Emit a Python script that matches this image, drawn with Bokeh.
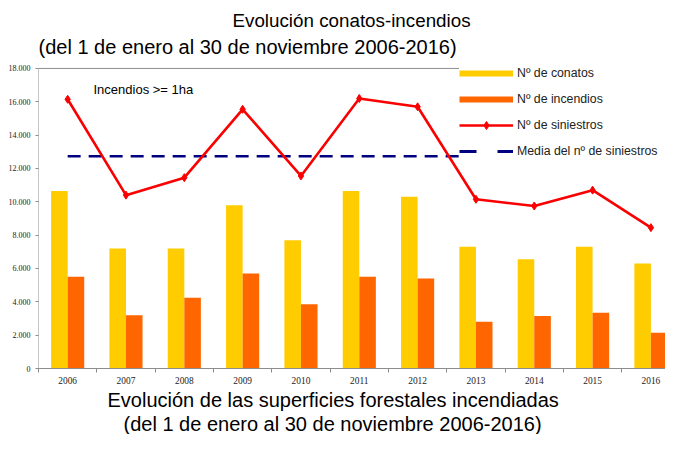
from bokeh.plotting import figure
from bokeh.models import (ColumnDataSource, Range1d, FixedTicker, CustomJSTickFormatter,
                          Label, Legend, LegendItem, Span, Title)
from bokeh.transform import dodge
from bokeh.embed import file_html
from bokeh.resources import INLINE

# ---- data ----
years = ["2006", "2007", "2008", "2009", "2010", "2011", "2012", "2013", "2014", "2015", "2016"]
conatos = [10650, 7200, 7200, 9800, 7700, 10650, 10300, 7300, 6550, 7300, 6300]
incendios = [5500, 3200, 4250, 5700, 3850, 5500, 5400, 2800, 3150, 3350, 2150]
siniestros = [16150, 10400, 11450, 15550, 11550, 16200, 15700, 10150, 9750, 10700, 8450]
media_siniestros = 12740
y_ticks = [0, 2000, 4000, 6000, 8000, 10000, 12000, 14000, 16000, 18000]
series_names = ["Nº de conatos", "Nº de incendios", "Nº de siniestros", "Media del nº de siniestros"]
title_main = "Evolución conatos-incendios"
subtitle = "(del 1 de enero al 30 de noviembre 2006-2016)"
bottom_title = "Evolución de las superficies forestales incendiadas"
note = "Incendios >= 1ha"

n = len(years)
pos = [i + 0.5 for i in range(n)]
src = ColumnDataSource(dict(x=pos, year=years, conatos=conatos, incendios=incendios,
                            siniestros=siniestros, media=[media_siniestros] * n))

YELLOW = "#FFCC00"
ORANGE = "#FF6600"
RED = "#FA0000"
NAVY = "#000080"
GREY = "#8c8c8c"
SANS = "Liberation Sans"
SERIF = "Liberation Serif"

# frame: top at 60, bottom at 370; the 18.000 level sits at y = 68
FRAME_TOP, FRAME_BOTTOM, TOP_LEVEL_Y = 60, 370, 68
y_top = y_ticks[-1] * (FRAME_BOTTOM - FRAME_TOP) / (FRAME_BOTTOM - TOP_LEVEL_Y)

p = figure(width=665, height=434, output_backend="svg", toolbar_location=None,
           x_range=Range1d(0, 10.75), y_range=Range1d(0, y_top), title_location=None,
           min_border_left=38, min_border_right=0, min_border_top=FRAME_TOP,
           min_border_bottom=434 - FRAME_BOTTOM)
p.outline_line_color = None
p.grid.visible = False
p.background_fill_color = "white"
p.border_fill_color = "white"

# bars
p.vbar(x=dodge("x", -0.142, range=p.x_range), top="conatos", width=0.284, source=src,
       fill_color=YELLOW, line_color=None)
p.vbar(x=dodge("x", 0.142, range=p.x_range), top="incendios", width=0.284, source=src,
       fill_color=ORANGE, line_color=None)

# mean line
p.line(x="x", y="media", source=src, line_color=NAVY, line_width=2.5, line_dash="13 8")

# siniestros line
p.line(x="x", y="siniestros", source=src, line_color=RED, line_width=2.6)
p.scatter(x="x", y="siniestros", source=src, marker="diamond", size=8,
          fill_color=RED, line_color=RED)

# left axis line (only up to the top tick) and top border
p.segment(x0=[0], y0=[y_ticks[0]], x1=[0], y1=[y_ticks[-1]], line_color=GREY, line_width=1)
p.add_layout(Span(location=y_ticks[-1], dimension="width", line_color=GREY, line_width=1))

# legend dummies (no visible data)
nan = float("nan")
def dummy():
    return ColumnDataSource(dict(x=[nan], y=[nan]))
d_con = p.line(x="x", y="y", source=dummy(), line_color=YELLOW, line_width=6)
d_inc = p.line(x="x", y="y", source=dummy(), line_color=ORANGE, line_width=6)
d_sin_l = p.line(x="x", y="y", source=dummy(), line_color=RED, line_width=2.6)
d_sin_m = p.scatter(x="x", y="y", source=dummy(), marker="diamond", size=8,
                    fill_color=RED, line_color=RED)
d_med = p.line(x="x", y="y", source=dummy(), line_color=NAVY, line_width=3,
               line_dash="17 21")

# axes
yax = p.yaxis[0]
yax.ticker = FixedTicker(ticks=y_ticks)
yax.formatter = CustomJSTickFormatter(code="return tick == 0 ? '0' : (tick/1000).toFixed(3);")
yax.major_label_text_font = SERIF
yax.major_label_text_font_size = "8px"
yax.major_label_text_color = "#222222"
yax.major_tick_out = 3
yax.major_tick_in = 0
yax.minor_tick_out = 0
yax.minor_tick_in = 0
yax.major_label_standoff = 5
yax.axis_line_color = None
yax.major_tick_line_color = GREY

xax = p.xaxis[0]
xax.ticker = FixedTicker(ticks=pos, minor_ticks=list(range(n + 1)))
xax.formatter = CustomJSTickFormatter(args=dict(years=years),
                                      code="return years[Math.floor(tick)];")
xax.major_label_text_font = SERIF
xax.major_label_text_font_size = "9.4px"
xax.major_label_text_color = "#222222"
xax.major_tick_out = 0
xax.major_tick_in = 0
xax.minor_tick_out = 4
xax.minor_tick_in = 0
xax.minor_tick_line_color = GREY
xax.axis_line_color = GREY
xax.major_label_standoff = 4

# note inside the plot
p.add_layout(Label(x=55, y=FRAME_BOTTOM - 91, x_units="screen", y_units="screen", text=note,
                   text_align="left", text_baseline="middle", text_font=SANS,
                   text_font_size="13px", text_color="black"))

# titles (above: nearest first; below: after axis, nearest first)
def ttl(text, size, offset, standoff):
    return Title(text=text, align="left", offset=offset, standoff=standoff,
                 text_font=SANS, text_font_size=size, text_font_style="normal",
                 text_color="black")

p.add_layout(ttl(subtitle, "20px", 0, 6), "above")
p.add_layout(ttl(title_main, "18.8px", 194, 0), "above")
p.add_layout(ttl(bottom_title, "20px", 69, 0), "below")
p.add_layout(ttl(subtitle, "20px", 85, 0), "below")

legend = Legend(items=[
    LegendItem(label=series_names[0], renderers=[d_con]),
    LegendItem(label=series_names[1], renderers=[d_inc]),
    LegendItem(label=series_names[2], renderers=[d_sin_l, d_sin_m]),
    LegendItem(label=series_names[3], renderers=[d_med]),
], location=(421, FRAME_BOTTOM - 163), orientation="vertical", padding=5, spacing=6,
    glyph_width=54, glyph_height=20, label_height=20, label_width=160, label_standoff=4,
    margin=0, border_line_color=None, background_fill_color="white", background_fill_alpha=1,
    label_text_font=SANS, label_text_font_size="12.3px", label_text_color="#222222")
p.add_layout(legend)

open("out.html", "w").write(file_html(p, INLINE))
